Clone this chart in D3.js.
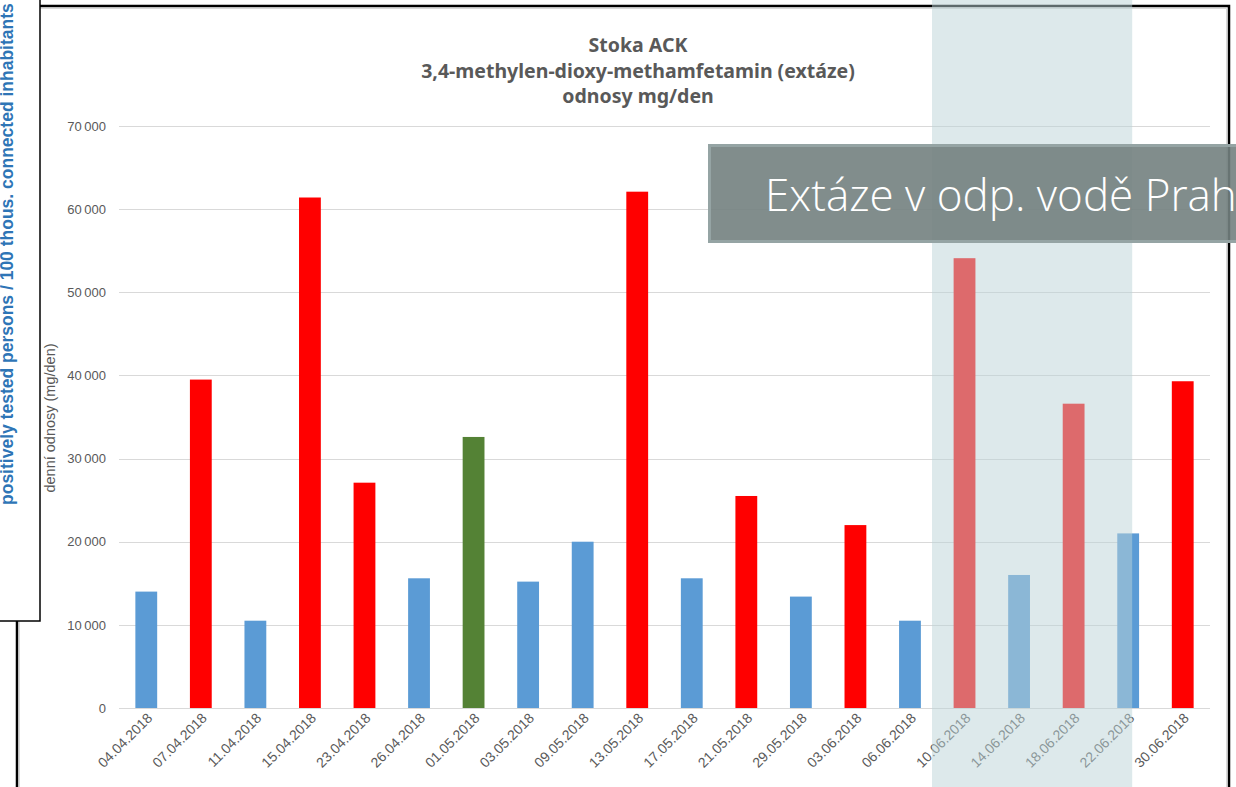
<!DOCTYPE html>
<html>
<head>
<meta charset="utf-8">
<script src="https://cdn.jsdelivr.net/npm/d3@7"></script>
<style>
  html, body { margin: 0; padding: 0; background: #fff; overflow: hidden; }
</style>
</head>
<body>
<div id="chart"></div>
<script>
// data
var dates = ["04.04.2018", "07.04.2018", "11.04.2018", "15.04.2018", "23.04.2018", "26.04.2018",
  "01.05.2018", "03.05.2018", "09.05.2018", "13.05.2018", "17.05.2018", "21.05.2018",
  "29.05.2018", "03.06.2018", "06.06.2018", "10.06.2018", "14.06.2018", "18.06.2018",
  "22.06.2018", "30.06.2018"]
var values = [14000, 39500, 10500, 61400, 27100, 15600, 32600, 15200, 20000, 62100,
  15600, 25500, 13400, 22000, 10500, 54100, 16000, 36600, 21000, 39300]
// kind of each sample: n = normal, h = high, s = special day
var kinds = ["n", "h", "n", "h", "h", "n", "s", "n", "n", "h",
  "n", "h", "n", "h", "n", "h", "n", "h", "n", "h"]
var yTicks = [0, 10000, 20000, 30000, 40000, 50000, 60000, 70000]
var titleLines = ["Stoka ACK", "3,4-methylen-dioxy-methamfetamin (extáze)", "odnosy mg/den"]
var yLabel = "denní odnosy (mg/den)"
var sideLabel = "positively tested persons / 100 thous. connected inhabitants"
var boxText = "Extáze v odp. vodě Praha"
var shadeTo = "22.06.2018"

var W = 1236, H = 787
var kindColor = { n: "#5b9bd5", h: "#ff0000", s: "#548235" }

var svg = d3.select("#chart").append("svg").attr("width", W).attr("height", H)
  .attr("font-family", "Liberation Sans, DejaVu Sans, sans-serif")

var x = d3.scaleBand().domain(dates).range([119, 1210]).padding(0)
var y = d3.scaleLinear().domain([0, 70000]).range([708, 126])
var fmt = function (v) { return d3.format(",")(v).replace(/,/g, "\u2009") }

// chart frame
svg.append("path")
  .attr("d", "M17,800 L17,6 L1229,6 L1229,800")
  .attr("fill", "none").attr("stroke", "#000").attr("stroke-width", 2.5)
svg.append("path")
  .attr("d", "M19.5,800 L19.5,8.5 L1226.5,8.5 L1226.5,800")
  .attr("fill", "none").attr("stroke", "#d9d9d9").attr("stroke-width", 1)

// title
var title = svg.append("g").attr("fill", "#595959").attr("font-weight", "bold")
  .attr("font-size", "19.5px").attr("text-anchor", "middle")
  .attr("font-family", "Noto Sans, DejaVu Sans, sans-serif")
titleLines.forEach(function (t, i) {
  title.append("text").attr("x", 638).attr("y", 52 + i * 25.5).text(t)
})

// grid
var grid = svg.append("g")
grid.selectAll("line").data(yTicks).enter().append("line")
  .attr("x1", 119).attr("x2", 1210)
  .attr("y1", function (d) { return Math.round(y(d)) + 0.5 })
  .attr("y2", function (d) { return Math.round(y(d)) + 0.5 })
  .attr("stroke", "#d9d9d9").attr("stroke-width", 1)

// y axis labels
var yAxis = svg.append("g").attr("transform", "translate(106,0)")
  .call(d3.axisLeft(y).tickValues(yTicks).tickSize(0).tickPadding(0).tickFormat(fmt))
yAxis.select(".domain").remove()
yAxis.attr("font-family", null).attr("font-size", null)
yAxis.selectAll("text").attr("fill", "#595959").attr("font-size", "13px")

svg.append("text")
  .attr("transform", "translate(55,418) rotate(-90)")
  .attr("text-anchor", "middle").attr("fill", "#595959").attr("font-size", "14.5px")
  .text(yLabel)

// bars
var bw = x.bandwidth() * 0.4
svg.append("g").selectAll("rect").data(dates).enter().append("rect")
  .attr("x", function (d) { return x(d) + x.bandwidth() / 2 - bw / 2 })
  .attr("width", bw)
  .attr("y", function (d, i) { return y(values[i]) })
  .attr("height", function (d, i) { return y(0) - y(values[i]) })
  .attr("fill", function (d, i) { return kindColor[kinds[i]] })

// x axis labels
var xAxis = svg.append("g").attr("transform", "translate(0,708)")
  .call(d3.axisBottom(x).tickSize(0).tickPadding(0))
xAxis.select(".domain").remove()
xAxis.attr("font-family", null).attr("font-size", null)
xAxis.selectAll("text")
  .attr("text-anchor", "end").attr("dy", null).attr("y", 0)
  .attr("transform", "translate(7,11) rotate(-45)")
  .attr("fill", "#595959").attr("font-size", "14px")

// shaded period
svg.append("rect")
  .attr("x", 932).attr("y", 0)
  .attr("width", x(shadeTo) + x.bandwidth() / 2 + 4 - 932).attr("height", H)
  .attr("fill", "rgb(187,212,215)").attr("opacity", 0.5)

// grey banner
svg.append("rect")
  .attr("x", 709.5).attr("y", 145.5).attr("width", 540).attr("height", 96)
  .attr("fill", "rgb(115,129,127)").attr("fill-opacity", 0.9)
  .attr("stroke", "#95a4a4").attr("stroke-width", 3)
svg.append("text")
  .attr("x", 765).attr("y", 211)
  .attr("fill", "#fff").attr("font-size", "44px").attr("font-weight", 300)
  .attr("font-family", "Open Sans, Lato, sans-serif")
  .text(boxText)

// left side panel
svg.append("rect")
  .attr("x", -5).attr("y", -5).attr("width", 45).attr("height", 626)
  .attr("fill", "#fff").attr("stroke", "#000").attr("stroke-width", 1.5)
svg.append("text")
  .attr("transform", "translate(13,505) rotate(-90)")
  .attr("fill", "#2e75b6").attr("font-weight", "bold").attr("font-size", "17.5px")
  .text(sideLabel)
</script>
</body>
</html>
